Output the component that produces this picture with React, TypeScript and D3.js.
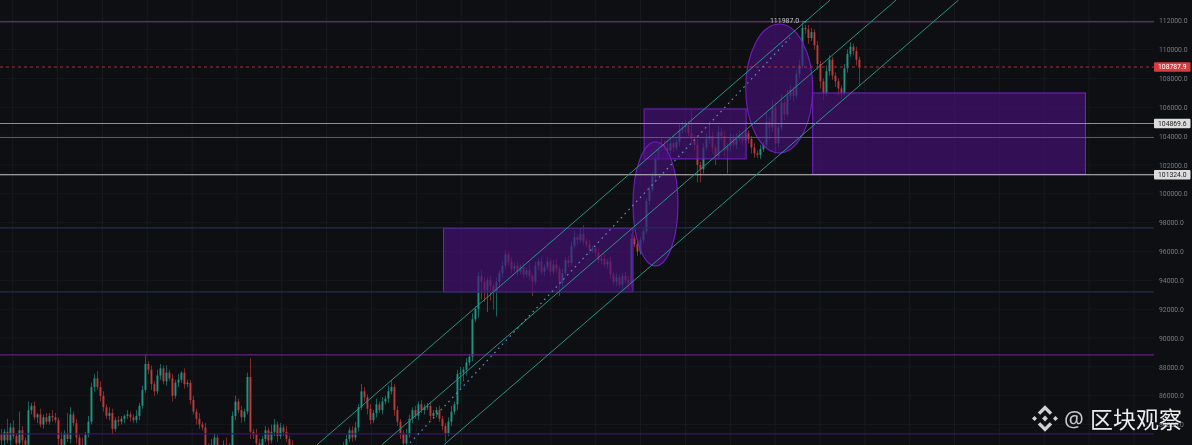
import React, { useEffect, useRef } from 'react';
import * as d3 from 'd3';

// price in thousands, one candle per entry
const closes = [
  82.9, 83.5, 82.9, 83.8, 83.2, 82.7, 83.6, 82.9, 82.6, 85.0, 85.3, 84.5, 84.7, 84.0, 84.5, 84.2, 84.6, 84.5, 84.3, 83.0,
  82.6, 83.4, 83.0, 84.7, 84.1, 83.1, 82.5, 82.3, 83.3, 84.2, 86.6, 87.2, 86.6, 86.0, 85.2, 84.6, 84.8, 83.7, 84.3, 84.2,
  84.4, 84.6, 84.7, 84.5, 84.3, 84.6, 85.3, 86.4, 88.2, 87.8, 86.8, 86.3, 87.4, 87.9, 87.0, 87.6, 87.2, 86.0, 86.9, 87.1,
  87.6, 86.8, 86.9, 85.7, 84.9, 84.4, 84.0, 83.8, 82.5, 81.9, 82.6, 83.1, 82.4, 81.8, 82.6, 82.0, 82.5, 84.6, 85.6, 85.0,
  84.5, 84.9, 87.3, 83.5, 83.3, 82.7, 82.2, 83.0, 83.6, 82.9, 83.5, 84.0, 83.2, 83.8, 83.5, 83.0, 82.6, 82.2, 81.6, 81.0,
  80.6, 80.2, 80.8, 80.3, 80.9, 81.2, 80.7, 81.3, 81.8, 81.4, 81.9, 82.2, 81.7, 82.4, 82.0, 83.0, 83.6, 83.1, 83.8, 85.2,
  86.3, 85.9, 85.1, 84.3, 84.8, 85.4, 85.0, 85.6, 85.8, 86.3, 86.6, 85.0, 84.2, 83.4, 82.7, 83.3, 84.4, 85.0, 84.6, 85.4,
  85.0, 85.2, 85.3, 84.6, 84.8, 85.0, 84.4, 83.9, 83.4, 84.2, 84.9, 85.4, 87.5, 87.6, 87.8, 88.3, 88.7, 91.3, 92.0, 94.3,
  93.9, 93.3, 94.0, 93.6, 93.2, 93.9, 94.5, 95.0, 95.8, 95.3, 94.8, 95.0, 94.6, 94.9, 94.4, 94.7, 94.3, 93.9, 95.0, 95.3,
  94.6, 94.9, 95.3, 94.6, 95.1, 94.8, 93.8, 94.5, 95.4, 95.2, 96.4, 97.0, 96.8, 97.2, 96.7, 96.5, 96.1, 96.2, 95.9, 95.4,
  95.5, 95.1, 95.3, 94.4, 93.9, 94.2, 93.7, 94.3, 94.0, 93.8, 96.9, 96.5, 96.0, 96.8, 97.4, 99.5, 100.3, 101.2, 102.5, 103.2,
  103.4, 103.2, 103.0, 103.5, 103.2, 103.6, 104.4, 104.6, 104.8, 104.2, 103.8, 103.4, 102.0, 101.7, 103.2, 103.8, 104.0, 103.2, 102.6, 104.3,
  104.0, 103.0, 103.3, 103.9, 103.4, 103.8, 104.1, 103.7, 104.2, 103.8, 103.2, 102.8, 102.7, 103.1, 103.4, 105.0, 104.6, 106.0, 103.5, 104.6,
  106.3, 105.5, 106.8, 107.2, 106.8, 108.3, 108.9, 111.5, 111.4, 110.8, 111.2, 110.3, 109.0, 107.8, 107.0, 108.5, 109.3, 108.2, 107.8, 107.3,
  107.0, 108.7, 109.7, 110.2, 109.9, 109.3, 108.79,
];
const wickUp = [
  0.4, 0.2, 0.9, 0.3, 0.5, 0.2, 1.3, 0.3, 0.2, 0.6, 0.2, 0.3, 0.1, 0.4, 0.2, 0.3, 0.2, 0.4, 0.3, 0.2,
  0.5, 0.2, 1.4, 0.5, 0.2, 0.3, 0.2, 0.6, 0.2, 0.4, 0.3, 0.3, 0.5, 0.4, 0.3, 0.2, 0.4, 0.3, 0.2, 0.3,
  0.2, 0.1, 0.3, 0.2, 0.2, 0.4, 0.2, 0.3, 0.6, 0.2, 0.3, 0.2, 0.4, 0.3, 0.2, 0.5, 0.2, 0.3, 0.2, 0.4,
  0.1, 0.3, 0.2, 0.2, 0.3, 0.2, 0.4, 0.2, 0.3, 0.2, 0.4, 0.3, 0.2, 0.2, 0.3, 0.5, 0.2, 0.3, 0.4, 0.2,
  0.3, 0.2, 0.3, 1.3, 0.2, 0.4, 0.3, 0.2, 0.3, 0.2, 0.5, 0.4, 0.2, 0.3, 0.2, 0.4, 0.2, 0.3, 0.2, 0.2,
  0.3, 0.2, 0.4, 0.2, 0.3, 0.2, 0.5, 0.2, 0.3, 0.2, 0.4, 0.2, 0.3, 0.2, 0.4, 0.3, 0.2, 0.3, 0.4, 0.2,
  0.5, 0.3, 0.2, 0.3, 0.2, 0.4, 0.2, 0.3, 0.2, 0.4, 0.5, 0.2, 0.3, 0.2, 0.2, 0.4, 0.3, 0.2, 0.3, 0.2,
  0.3, 0.2, 0.2, 0.3, 0.2, 0.2, 0.3, 0.2, 0.2, 0.3, 0.4, 0.2, 0.3, 0.4, 0.2, 0.3, 0.2, 0.4, 0.2, 0.3,
  0.4, 0.3, 0.2, 0.3, 0.2, 0.3, 0.2, 0.3, 0.3, 0.2, 0.3, 0.2, 0.3, 0.2, 0.3, 0.2, 0.4, 0.2, 0.3, 0.2,
  0.3, 0.2, 0.3, 0.2, 0.3, 0.4, 0.2, 0.3, 0.2, 0.3, 0.3, 0.4, 0.2, 0.4, 0.6, 0.2, 0.3, 0.2, 0.2, 0.3,
  0.2, 0.3, 0.2, 0.3, 0.2, 0.3, 0.2, 0.2, 0.3, 0.3, 0.3, 0.2, 0.3, 0.2, 0.3, 0.2, 0.2, 0.3, 0.2, 0.2,
  0.4, 0.3, 0.5, 0.3, 0.6, 0.3, 0.5, 0.4, 0.3, 0.2, 1.6, 0.3, 0.4, 0.2, 0.3, 0.4, 1.0, 0.3, 0.2, 0.4,
  0.3, 0.4, 0.2, 0.3, 0.2, 0.4, 0.3, 0.2, 0.3, 0.2, 0.2, 0.3, 0.2, 0.3, 0.2, 0.6, 0.3, 0.5, 0.4, 0.3,
  0.6, 0.3, 0.4, 0.3, 0.2, 0.3, 0.4, 0.49, 0.2, 0.3, 0.3, 0.2, 0.3, 0.2, 0.2, 0.4, 0.3, 0.2, 0.2, 0.2,
  0.2, 0.3, 0.3, 0.3, 0.2, 0.3, 0.2,
];
const wickDown = [
  0.3, 0.5, 0.2, 0.4, 0.2, 0.3, 0.2, 0.4, 0.3, 0.2, 0.3, 0.2, 0.4, 0.2, 0.3, 0.2, 0.2, 0.3, 0.2, 0.4,
  0.2, 0.3, 0.2, 0.3, 0.2, 0.4, 0.3, 0.2, 0.3, 0.2, 0.2, 0.3, 0.2, 0.4, 0.3, 0.2, 0.3, 0.4, 0.2, 0.3,
  0.2, 0.3, 0.2, 0.3, 0.2, 0.2, 0.3, 0.2, 0.2, 0.3, 0.4, 0.3, 0.2, 0.3, 0.2, 0.3, 0.2, 0.4, 0.2, 0.3,
  0.2, 0.3, 0.2, 0.3, 0.2, 0.4, 0.3, 0.2, 0.4, 0.3, 0.2, 0.3, 0.2, 0.4, 0.3, 0.2, 0.3, 0.2, 0.3, 0.2,
  0.4, 0.3, 0.2, 0.5, 0.3, 0.2, 0.4, 0.3, 0.2, 0.3, 0.2, 0.3, 0.4, 0.2, 0.3, 0.2, 0.3, 0.2, 0.3, 0.2,
  0.2, 0.3, 0.2, 0.3, 0.2, 0.3, 0.2, 0.3, 0.2, 0.3, 0.2, 0.3, 0.2, 0.3, 0.2, 0.3, 0.2, 0.3, 0.2, 0.3,
  0.2, 0.3, 0.4, 0.3, 0.2, 0.3, 0.2, 0.3, 0.2, 0.3, 0.2, 0.4, 0.3, 0.4, 0.5, 0.3, 0.2, 0.3, 0.2, 0.3,
  0.2, 0.3, 0.2, 0.3, 0.2, 0.3, 0.2, 0.3, 0.6, 0.2, 0.3, 0.2, 0.4, 1.0, 0.6, 0.4, 0.2, 0.3, 0.2, 0.6,
  1.2, 0.8, 1.5, 1.0, 1.2, 1.7, 0.4, 0.3, 0.2, 0.3, 0.3, 0.2, 0.3, 0.2, 0.3, 0.2, 0.3, 1.0, 0.2, 0.3,
  0.2, 0.3, 0.2, 0.3, 0.2, 0.3, 0.9, 0.3, 0.2, 0.3, 0.2, 0.2, 0.3, 0.2, 0.3, 0.2, 0.3, 0.2, 0.3, 0.2,
  0.3, 0.2, 0.3, 0.3, 0.2, 0.3, 0.2, 0.3, 0.2, 0.4, 0.3, 0.2, 0.3, 0.2, 0.2, 0.2, 0.3, 0.2, 0.3, 0.2,
  0.3, 0.2, 0.3, 0.2, 0.3, 0.2, 0.3, 0.2, 0.3, 0.2, 0.3, 0.4, 1.2, 0.9, 0.3, 0.2, 0.3, 0.4, 0.6, 0.2,
  0.3, 0.4, 1.6, 0.3, 0.2, 0.3, 0.2, 0.3, 0.2, 0.3, 0.4, 0.3, 0.2, 0.3, 0.2, 0.2, 0.9, 0.3, 0.7, 0.3,
  0.2, 0.4, 0.2, 0.3, 0.4, 0.2, 0.3, 0.2, 0.3, 0.4, 0.2, 0.3, 0.4, 0.5, 0.5, 0.2, 0.3, 0.3, 0.4, 0.5,
  0.4, 0.2, 0.3, 0.2, 0.3, 0.4, 1.3,
];
const firstOpen = 83.3;

const priceTicks = d3.range(84, 113, 2);

// horizontal levels: price, colour, stroke width
const levelPrices = [111.93, 108.7879, 104.8696, 103.9, 101.324, 97.63, 93.2, 88.83, 83.36];
const levelColors = ['#5b2a5e', '#a83336', '#8f8f91', '#93399a', '#c8c8c8', '#1c3350', '#1c3350', '#64207f', '#3c1366'];
const levelWidths = [1.6, 1, 1.1, 1, 1.1, 1.2, 1.2, 1.2, 1.2];

const priceTags = [
  { price: 108.7879, label: '108787.9', fill: '#d63c3f', text: '#fff' },
  { price: 104.8696, label: '104869.6', fill: '#dcdcdc', text: '#222' },
  { price: 101.324, label: '101324.0', fill: '#dcdcdc', text: '#222' },
];

// channel lines, [candle index, price] at each end
const channelLines = [
  [[105.2, 82.6], [276.2, 113.43]],
  [[126.8, 82.6], [298.2, 113.43]],
  [[147.5, 82.6], [319.0, 113.43]],
];
const medianLine = [[136.2, 82.73], [262.8, 110.8]];

// zones as [index from, index to, price top, price bottom]
const boxes = [
  [147.33, 210.5, 97.6, 93.2],
  [214.2, 248.2, 105.88, 102.42],
  [270.4, 361.33, 106.99, 101.34],
];
const ellipses = [
  [210.5, 225.5, 103.59, 95.0],
  [248.07, 270.4, 111.77, 102.83],
];

const gridIndexes = d3.range(3.73, 385, 14.95);
const peakIndex = 269;
const peakLabel = '111987.0';
const peakPrice = 111.987;

const App: React.FC = () => {
  const svgRef = useRef<SVGSVGElement>(null);

  useEffect(() => {
    if (!svgRef.current) return;
    const width = 1192;
    const height = 445;
    const plotRight = 1154;
    const svg = d3.select(svgRef.current);
    svg.selectAll('*').remove();

    const x = d3.scaleLinear().domain([0, 286]).range([1.5, 859.5]);
    const y = d3.scaleLinear().domain([86, 112]).range([395.7, 20.7]);

    svg.append('rect').attr('width', width).attr('height', height).attr('fill', '#0d0f12');

    // grid
    svg.append('g').selectAll('line').data(gridIndexes).enter().append('line')
      .attr('x1', d => x(d)).attr('x2', d => x(d))
      .attr('y1', 0).attr('y2', height)
      .attr('stroke', '#181b1f').attr('stroke-width', 1);
    svg.append('g').selectAll('line').data(priceTicks).enter().append('line')
      .attr('x1', 0).attr('x2', plotRight)
      .attr('y1', d => y(d)).attr('y2', d => y(d))
      .attr('stroke', '#15181c').attr('stroke-width', 1);

    // candles
    const candles = closes.map((c, i) => {
      const o = i === 0 ? firstOpen : closes[i - 1];
      return {
        i, o, c,
        h: Math.max(o, c) + wickUp[i],
        l: Math.min(o, c) - wickDown[i],
      };
    });
    const color = (d: any) => (d.c >= d.o ? '#1f9584' : '#bd3b3d');
    const candleG = svg.append('g');
    candleG.selectAll('line').data(candles).enter().append('line')
      .attr('x1', d => x(d.i)).attr('x2', d => x(d.i))
      .attr('y1', d => y(d.h)).attr('y2', d => y(d.l))
      .attr('stroke', color).attr('stroke-width', 0.8).attr('opacity', 0.8);
    candleG.selectAll('rect').data(candles).enter().append('rect')
      .attr('x', d => x(d.i) - 1)
      .attr('width', 1.9)
      .attr('y', d => y(Math.max(d.o, d.c)))
      .attr('height', d => Math.max(1, Math.abs(y(d.o) - y(d.c))))
      .attr('fill', color);

    // zones
    svg.append('g').selectAll('rect').data(boxes).enter().append('rect')
      .attr('x', d => x(d[0])).attr('width', d => x(d[1]) - x(d[0]))
      .attr('y', d => y(d[2])).attr('height', d => y(d[3]) - y(d[2]))
      .attr('fill', '#47107a').attr('fill-opacity', 0.66)
      .attr('stroke', '#7120bd').attr('stroke-width', 1.1);
    svg.append('g').selectAll('ellipse').data(ellipses).enter().append('ellipse')
      .attr('cx', d => (x(d[0]) + x(d[1])) / 2).attr('rx', d => (x(d[1]) - x(d[0])) / 2)
      .attr('cy', d => (y(d[2]) + y(d[3])) / 2).attr('ry', d => (y(d[3]) - y(d[2])) / 2)
      .attr('fill', '#47107a').attr('fill-opacity', 0.66)
      .attr('stroke', '#7120bd').attr('stroke-width', 1.1);

    // horizontal levels
    svg.append('g').selectAll('line').data(levelPrices).enter().append('line')
      .attr('x1', 0).attr('x2', plotRight)
      .attr('y1', d => y(d)).attr('y2', d => y(d))
      .attr('stroke', (d, i) => levelColors[i])
      .attr('stroke-width', (d, i) => levelWidths[i])
      .attr('stroke-dasharray', (d, i) => (i === 1 ? '3 3' : null));

    // channel
    const line = d3.line<number[]>().x(d => x(d[0])).y(d => y(d[1]));
    svg.append('g').selectAll('path').data(channelLines).enter().append('path')
      .attr('d', d => line(d) || '')
      .attr('fill', 'none').attr('stroke', '#2a9385').attr('stroke-width', 1);
    svg.append('path')
      .attr('d', line(medianLine) || '')
      .attr('fill', 'none').attr('stroke', '#5a8fc4')
      .attr('stroke-width', 1.2).attr('stroke-dasharray', '1.6 4');

    // price axis
    const axis = d3.axisRight(y)
      .tickValues(priceTicks)
      .tickSize(0)
      .tickPadding(0)
      .tickFormat(d => (Number(d) * 1000).toFixed(1));
    const axisG = svg.append('g').attr('transform', 'translate(1159,0)').call(axis);
    axisG.select('.domain').remove();
    axisG.selectAll('text')
      .attr('fill', '#787b82')
      .style('font-family', 'Roboto, sans-serif')
      .style('font-size', '6.8px');

    const tags = svg.append('g').selectAll('g').data(priceTags).enter().append('g');
    tags.append('rect')
      .attr('x', plotRight).attr('width', 36.5)
      .attr('y', d => y(d.price) - 4.7).attr('height', 9.4)
      .attr('rx', 1)
      .attr('fill', d => d.fill);
    tags.append('text')
      .attr('x', 1158).attr('y', d => y(d.price))
      .attr('dy', '0.35em')
      .attr('fill', d => d.text)
      .style('font-family', 'Roboto, sans-serif')
      .style('font-size', '6.8px')
      .text(d => d.label);

    // high marker
    svg.append('text')
      .attr('x', x(peakIndex) - 0.5).attr('y', y(peakPrice) - 0.5)
      .attr('text-anchor', 'end')
      .attr('dy', '0.35em')
      .attr('fill', '#c4c4c6')
      .style('font-family', 'Roboto, sans-serif')
      .style('font-size', '7px')
      .text(peakLabel + ' \u2192');

    // watermark
    const logo = svg.append('g').attr('transform', 'translate(1045,418.5)').attr('fill', '#d2d2d2');
    const logoParts = [
      'M0 -2.9L2.9 0L0 2.9L-2.9 0Z',
      'M-10.4 -2.4L-8 0L-10.4 2.4L-13 0Z',
      'M10.4 -2.4L13 0L10.4 2.4L8 0Z',
      'M0 -13.3L7.2 -6.1L4.8 -3.7L0 -8.5L-4.8 -3.7L-7.2 -6.1Z',
      'M0 13.3L7.2 6.1L4.8 3.7L0 8.5L-4.8 3.7L-7.2 6.1Z',
    ];
    logo.selectAll('path').data(logoParts).enter().append('path').attr('d', d => d);
    svg.append('text')
      .attr('x', 1064).attr('y', 427)
      .attr('fill', '#c8c8c8')
      .style('font-family', '"Noto Sans", sans-serif')
      .style('font-size', '22px')
      .text('@');
    svg.append('text')
      .attr('x', 1090).attr('y', 428)
      .attr('fill', '#ececec')
      .style('font-family', '"Noto Sans CJK SC", sans-serif')
      .style('font-size', '23px')
      .text('区块观察');
  }, []);

  return (
    <div style={{ position: 'absolute', left: 0, top: 0 }}>
      <svg ref={svgRef} width={1192} height={445} style={{ display: 'block', filter: 'blur(0.35px)' }} />
    </div>
  );
};

export default App;
